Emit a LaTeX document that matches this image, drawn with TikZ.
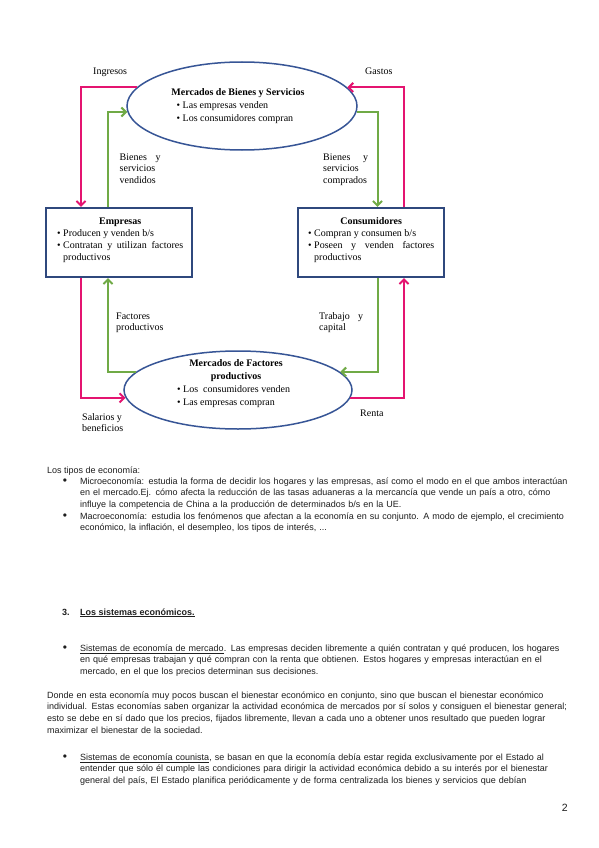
\documentclass[tikz,border=0pt]{standalone}
\usepackage{fontspec}
\setmainfont{Liberation Serif}
\newfontfamily\arialf{Liberation Sans}
\usetikzlibrary{arrows.meta,shapes.geometric}
\definecolor{pinkc}{RGB}{228,20,112}
\definecolor{greenc}{RGB}{112,170,70}
\definecolor{boxblue}{RGB}{47,72,125}
\definecolor{ellblue}{RGB}{55,85,150}
\definecolor{bodyc}{RGB}{30,30,30}
\newcommand\jl[1]{\makebox[\hsize][s]{#1}}
\newcommand\bul{\noindent\strut\llap{{\fontsize{12}{12}\selectfont\textbullet}\hspace{13pt}}}
\begin{document}
\begin{tikzpicture}[x=1pt,y=-1pt,
  ell/.style={ellipse, draw=ellblue, fill=white, line width=1.5pt, inner sep=0},
  agbox/.style={draw=boxblue, fill=white, line width=2.2pt, minimum width=146pt, minimum height=69pt, inner sep=0},
  dtxt/.style={font=\fontsize{10}{12}\selectfont, inner sep=0, text=black},
  lbl/.style={font=\fontsize{10}{11.5}\selectfont, inner sep=0, align=left, anchor=north west, text=black},
  body/.style={font=\arialf\fontsize{9}{11.6}\selectfont, inner sep=0, text=bodyc},
  flowp/.style={draw=pinkc, line width=2pt, -{Straight Barb[length=4.5pt,width=9pt]}},
  flowg/.style={draw=greenc, line width=2pt, -{Straight Barb[length=4.5pt,width=9pt]}},
]
\fill[white] (0,0) rectangle (599,848);
\useasboundingbox (0,0) rectangle (599,848);

% main shapes
\node[ell, minimum width=230pt, minimum height=88pt] (mbs) at (242,106) {};
\node[ell, minimum width=228pt, minimum height=78pt] (mfp) at (238,390) {};
\node[agbox] (emp) at (119,242.5) {};
\node[agbox] (con) at (371,242.5) {};

% connectors
\draw[flowp] (mbs.170) -| ([xshift=-38pt]emp.north);
\draw[flowg] ([xshift=-11pt]emp.north) |- (mbs.183);
\draw[flowp] ([xshift=33pt]con.north) |- (mbs.10);
\draw[flowg] (mbs.-3) -| ([xshift=6.5pt]con.north);
\draw[flowg] (mfp.170) -| ([xshift=-11pt]emp.south);
\draw[flowp] ([xshift=-38pt]emp.south) |- (mfp.184);
\draw[flowg] ([xshift=6.5pt]con.south) |- (mfp.10);
\draw[flowp] (mfp.-4) -| ([xshift=33pt]con.south);

% ellipse texts
\node[dtxt, anchor=base] (mbst) at (238,95.5) {\textbf{Mercados de Bienes y Servicios}};
\node[dtxt, anchor=base west] (mbs1) at (176.5,108.3) {\textbullet\hspace{2.5pt}Las empresas venden};
\node[dtxt, anchor=base west] (mbs2) at (176.5,121.3) {\textbullet\hspace{2.5pt}Los consumidores compran};
\node[dtxt, anchor=base] (mfpt1) at (236,366.5) {\textbf{Mercados de Factores}};
\node[dtxt, anchor=base] (mfpt2) at (236,379) {\textbf{productivos}};
\node[dtxt, anchor=base west] (mfp1) at (177,392.3) {\textbullet\hspace{2.5pt}Los\ \ consumidores venden};
\node[dtxt, anchor=base west] (mfp2) at (177,405.3) {\textbullet\hspace{2.5pt}Las empresas compran};

% box texts
\node[dtxt, text width=126pt, align=justify, anchor=north west] (empt) at (57,215.6)
 {\parindent=0pt\hyphenpenalty=10000\exhyphenpenalty=10000
  \strut\hfill\textbf{Empresas}\hfill\null\par
  \hangindent=6pt\hangafter=1 \textbullet\hspace{2.5pt}Producen y venden b/s\par
  \hangindent=6pt\hangafter=1 \textbullet\hspace{2.5pt}Contratan y utilizan factores productivos\par};
\node[dtxt, text width=126pt, align=justify, anchor=north west] (cont) at (308,215.6)
 {\parindent=0pt\hyphenpenalty=10000\exhyphenpenalty=10000
  \strut\hfill\textbf{Consumidores}\hfill\null\par
  \hangindent=6pt\hangafter=1 \textbullet\hspace{2.5pt}Compran y consumen b/s\par
  \hangindent=6pt\hangafter=1 \jl{\textbullet\hspace{2.5pt}Poseen y venden factores}\par
  \hspace*{6pt}productivos\par};

% labels
\node[dtxt, anchor=base west] (ing) at (93,75) {Ingresos};
\node[dtxt, anchor=base west] (gas) at (365,75) {Gastos};
\node[lbl] (bsv) at (119.5,151.95) {\strut\makebox[41pt][s]{Bienes\hfill y}\\servicios\\vendidos};
\node[lbl] (bsc) at (323,151.95) {\strut\makebox[45pt][s]{Bienes\hfill y}\\servicios\\comprados};
\node[lbl] (fpl) at (116,310.95) {\strut Factores\\productivos};
\node[lbl] (tcl) at (319,310.95) {\strut\makebox[44pt][s]{Trabajo\hfill y}\\capital};
\node[lbl] (sbl) at (82,411.95) {\strut Salarios y\\beneficios};
\node[dtxt, anchor=base west] (ren) at (360,416) {Renta};

% body text
\node[body, anchor=base west] (tipos) at (47,473) {Los tipos de economía:};
\node[body, text width=468pt, anchor=north west] (micro) at (80,475.9)
 {\parindent=0pt
  \bul\jl{Microeconomía: estudia la forma de decidir los hogares y las empresas, así como el modo en el que ambos interactúan}\par
  \jl{en el mercado.Ej. cómo afecta la reducción de las tasas aduaneras a la mercancía que vende un país a otro, cómo}\par
  influye la competencia de China a la producción de determinados b/s en la UE.\par
  \bul\jl{Macroeconomía: estudia los fenómenos que afectan a la economía en su conjunto. A modo de ejemplo, el crecimiento}\par
  económico, la inflación, el desempleo, los tipos de interés, ...\par};

\node[body, anchor=base west] (h3n) at (62,615) {\textbf{3.}};
\node[body, anchor=base west] (h3t) at (80,615) {\textbf{\underline{Los sistemas económicos.}}};

\node[body, text width=468pt, anchor=north west] (merc) at (80,642.9)
 {\parindent=0pt
  \bul\jl{\underline{Sistemas de economía de mercado}. Las empresas deciden libremente a quién contratan y qué producen, los hogares}\par
  \jl{en qué empresas trabajan y qué compran con la renta que obtienen. Estos hogares y empresas interactúan en el}\par
  mercado, en el que los precios determinan sus decisiones.\par};

\node[body, text width=502pt, anchor=north west] (donde) at (47,689.9)
 {\parindent=0pt
  \noindent\strut\jl{Donde en esta economía muy pocos buscan el bienestar económico en conjunto, sino que buscan el bienestar económico}\par
  \jl{individual. Estas economías saben organizar la actividad económica de mercados por sí solos y consiguen el bienestar general;}\par
  \jl{esto se debe en sí dado que los precios, fijados libremente, llevan a cada uno a obtener unos resultado que pueden lograr}\par
  maximizar el bienestar de la sociedad.\par};

\node[body, text width=468pt, anchor=north west] (coun) at (80,751.9)
 {\parindent=0pt
  \bul\jl{\underline{Sistemas de economía counista}, se basan en que la economía debía estar regida exclusivamente por el Estado al}\par
  \jl{entender que sólo él cumple las condiciones para dirigir la actividad económica debido a su interés por el bienestar}\par
  \jl{general del país, El Estado planifica periódicamente y de forma centralizada los bienes y servicios que debían}\par};

\node[body, font=\arialf\fontsize{10.5}{12}\selectfont, anchor=base east] (pg) at (568,811) {2};
\end{tikzpicture}
\end{document}
